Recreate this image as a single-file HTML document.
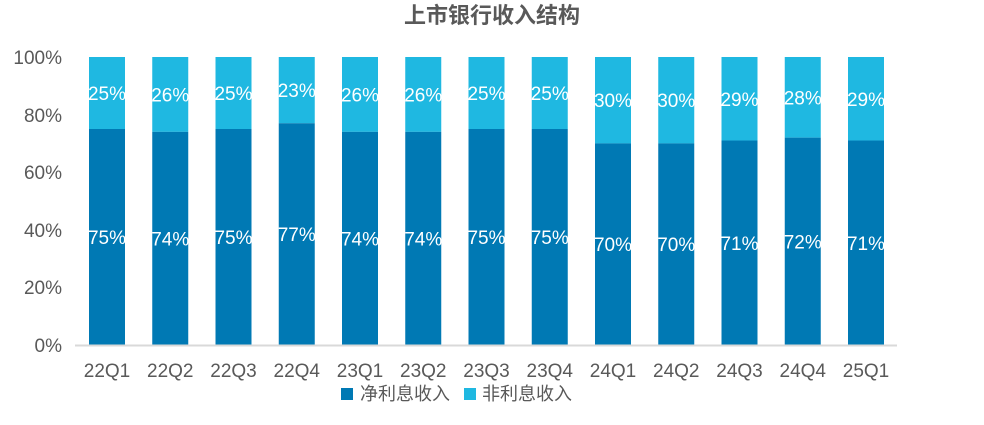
<!DOCTYPE html>
<html><head><meta charset="utf-8"><style>
body{margin:0;background:#fff;}
svg text{font-family:"Liberation Sans","Noto Sans CJK SC",sans-serif;}
</style></head><body>
<svg width="984" height="420" xmlns="http://www.w3.org/2000/svg">
<text x="492" y="23" text-anchor="middle" font-size="22" font-weight="bold" fill="#595959">上市银行收入结构</text>
<g font-size="19" fill="#595959" text-anchor="end">
<text x="62" y="64">100%</text>
<text x="62" y="122">80%</text>
<text x="62" y="179">60%</text>
<text x="62" y="237">40%</text>
<text x="62" y="294">20%</text>
<text x="62" y="352">0%</text>
</g>
<g fill="#1fb8e1">
<rect x="89" y="57" width="36" height="72"/>
<rect x="152.25" y="57" width="36" height="74.88"/>
<rect x="215.5" y="57" width="36" height="72"/>
<rect x="278.75" y="57" width="36" height="66.24"/>
<rect x="342" y="57" width="36" height="74.88"/>
<rect x="405.25" y="57" width="36" height="74.88"/>
<rect x="468.5" y="57" width="36" height="72"/>
<rect x="531.75" y="57" width="36" height="72"/>
<rect x="595" y="57" width="36" height="86.4"/>
<rect x="658.25" y="57" width="36" height="86.4"/>
<rect x="721.5" y="57" width="36" height="83.52"/>
<rect x="784.75" y="57" width="36" height="80.64"/>
<rect x="848" y="57" width="36" height="83.52"/>
</g>
<g fill="#0079b4">
<rect x="89" y="129" width="36" height="216"/>
<rect x="152.25" y="131.88" width="36" height="213.12"/>
<rect x="215.5" y="129" width="36" height="216"/>
<rect x="278.75" y="123.24" width="36" height="221.76"/>
<rect x="342" y="131.88" width="36" height="213.12"/>
<rect x="405.25" y="131.88" width="36" height="213.12"/>
<rect x="468.5" y="129" width="36" height="216"/>
<rect x="531.75" y="129" width="36" height="216"/>
<rect x="595" y="143.4" width="36" height="201.6"/>
<rect x="658.25" y="143.4" width="36" height="201.6"/>
<rect x="721.5" y="140.52" width="36" height="204.48"/>
<rect x="784.75" y="137.64" width="36" height="207.36"/>
<rect x="848" y="140.52" width="36" height="204.48"/>
</g>
<g font-size="19" fill="#fff" text-anchor="middle">
<text x="107" y="100">25%</text><text x="107" y="244">75%</text>
<text x="170.25" y="101.4">26%</text><text x="170.25" y="245.4">74%</text>
<text x="233.5" y="100">25%</text><text x="233.5" y="244">75%</text>
<text x="296.75" y="97.1">23%</text><text x="296.75" y="241.1">77%</text>
<text x="360" y="101.4">26%</text><text x="360" y="245.4">74%</text>
<text x="423.25" y="101.4">26%</text><text x="423.25" y="245.4">74%</text>
<text x="486.5" y="100">25%</text><text x="486.5" y="244">75%</text>
<text x="549.75" y="100">25%</text><text x="549.75" y="244">75%</text>
<text x="613" y="107.2">30%</text><text x="613" y="251.2">70%</text>
<text x="676.25" y="107.2">30%</text><text x="676.25" y="251.2">70%</text>
<text x="739.5" y="105.8">29%</text><text x="739.5" y="249.8">71%</text>
<text x="802.75" y="104.3">28%</text><text x="802.75" y="248.3">72%</text>
<text x="866" y="105.8">29%</text><text x="866" y="249.8">71%</text>
</g>
<g font-size="19" fill="#595959" text-anchor="middle">
<text x="107" y="377">22Q1</text>
<text x="170.25" y="377">22Q2</text>
<text x="233.5" y="377">22Q3</text>
<text x="296.75" y="377">22Q4</text>
<text x="360" y="377">23Q1</text>
<text x="423.25" y="377">23Q2</text>
<text x="486.5" y="377">23Q3</text>
<text x="549.75" y="377">23Q4</text>
<text x="613" y="377">24Q1</text>
<text x="676.25" y="377">24Q2</text>
<text x="739.5" y="377">24Q3</text>
<text x="802.75" y="377">24Q4</text>
<text x="866" y="377">25Q1</text>
</g>
<line x1="75" y1="345.5" x2="897" y2="345.5" stroke="#d9d9d9" stroke-width="2"/>
<rect x="341" y="388" width="12" height="12" fill="#0079b4"/>
<text x="360" y="400" font-size="18" fill="#595959">净利息收入</text>
<rect x="464" y="388" width="12" height="12" fill="#1fb8e1"/>
<text x="482" y="400" font-size="18" fill="#595959">非利息收入</text>
</svg>
</body></html>
